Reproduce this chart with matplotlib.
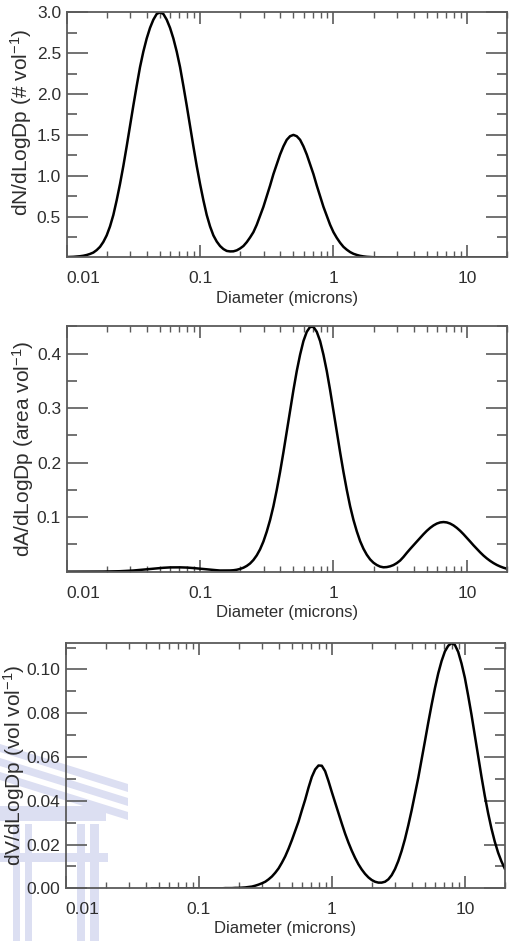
import numpy as np
import matplotlib
matplotlib.use('Agg')
import matplotlib.pyplot as plt
from matplotlib.ticker import LogLocator, NullFormatter
from matplotlib.patches import Rectangle, Polygon

# ------------------ values ------------------
# particle diameter in microns (same grid for all three panels)
diameter = [
    0.010000, 0.010593, 0.011220, 0.011885, 0.012589, 0.013335, 0.014125, 0.014962, 0.015849, 0.016788,
    0.017783, 0.018836, 0.019953, 0.021135, 0.022387, 0.023714, 0.025119, 0.026607, 0.028184, 0.029854,
    0.031623, 0.033497, 0.035481, 0.037584, 0.039811, 0.042170, 0.044668, 0.047315, 0.050119, 0.053088,
    0.056234, 0.059566, 0.063096, 0.066834, 0.070795, 0.074989, 0.079433, 0.084140, 0.089125, 0.094406,
    0.10000, 0.10593, 0.11220, 0.11885, 0.12589, 0.13335, 0.14125, 0.14962, 0.15849, 0.16788,
    0.17783, 0.18836, 0.19953, 0.21135, 0.22387, 0.23714, 0.25119, 0.26607, 0.28184, 0.29854,
    0.31623, 0.33497, 0.35481, 0.37584, 0.39811, 0.42170, 0.44668, 0.47315, 0.50119, 0.53088,
    0.56234, 0.59566, 0.63096, 0.66834, 0.70795, 0.74989, 0.79433, 0.84140, 0.89125, 0.94406,
    1.0000, 1.0593, 1.1220, 1.1885, 1.2589, 1.3335, 1.4125, 1.4962, 1.5849, 1.6788,
    1.7783, 1.8836, 1.9953, 2.1135, 2.2387, 2.3714, 2.5119, 2.6607, 2.8184, 2.9854,
    3.1623, 3.3497, 3.5481, 3.7584, 3.9811, 4.2170, 4.4668, 4.7315, 5.0119, 5.3088,
    5.6234, 5.9566, 6.3096, 6.6834, 7.0795, 7.4989, 7.9433, 8.4140, 8.9125, 9.4406,
    10.000, 10.593, 11.220, 11.885, 12.589, 13.335, 14.125, 14.962, 15.849, 16.788,
    17.783, 18.836, 19.953,
]

# number distribution dN/dLogDp
dn = [
    0.005, 0.006, 0.008, 0.011, 0.015, 0.021, 0.03, 0.043, 0.06, 0.09,
    0.13, 0.19, 0.27, 0.38, 0.52, 0.70, 0.90, 1.12, 1.36, 1.61,
    1.86, 2.10, 2.33, 2.52, 2.68, 2.81, 2.91, 2.98, 3.00, 2.98,
    2.91, 2.81, 2.68, 2.52, 2.33, 2.10, 1.86, 1.61, 1.36, 1.12,
    0.90, 0.70, 0.52, 0.38, 0.27, 0.195, 0.14, 0.103, 0.08, 0.074,
    0.075, 0.087, 0.11, 0.14, 0.187, 0.245, 0.31, 0.40, 0.51, 0.62,
    0.75, 0.88, 1.02, 1.14, 1.26, 1.36, 1.44, 1.484, 1.50, 1.484,
    1.44, 1.36, 1.26, 1.14, 1.02, 0.88, 0.75, 0.62, 0.51, 0.40,
    0.31, 0.24, 0.18, 0.13, 0.095, 0.066, 0.045, 0.031, 0.02, 0.013,
    0.008, 0.005, 0.003, 0.002, 0.001, 0.0, 0.0, 0.0, 0.0, 0.0,
    0.0, 0.0, 0.0, 0.0, 0.0, 0.0, 0.0, 0.0, 0.0, 0.0,
    0.0, 0.0, 0.0, 0.0, 0.0, 0.0, 0.0, 0.0, 0.0, 0.0,
    0.0, 0.0, 0.0, 0.0, 0.0, 0.0, 0.0, 0.0, 0.0, 0.0,
    0.0, 0.0, 0.0,
]

# area distribution dA/dLogDp
da = [
    0.0, 0.0, 0.0, 0.0, 0.0, 0.0, 0.0, 0.0, 0.0001, 0.0001,
    0.0001, 0.0002, 0.0003, 0.0004, 0.0005, 0.0006, 0.0008, 0.0011, 0.0014, 0.0017,
    0.0021, 0.0026, 0.0031, 0.0037, 0.0043, 0.0049, 0.0055, 0.0060, 0.0066, 0.0071,
    0.0075, 0.0078, 0.0079, 0.0080, 0.0079, 0.0078, 0.0075, 0.0071, 0.0066, 0.0060,
    0.0055, 0.0049, 0.0043, 0.0037, 0.0031, 0.0026, 0.0021, 0.0021, 0.0021, 0.0022,
    0.0026, 0.0035, 0.0050, 0.0072, 0.0105, 0.0150, 0.0214, 0.0299, 0.0410, 0.0553,
    0.0734, 0.0947, 0.120, 0.150, 0.183, 0.219, 0.257, 0.295, 0.333, 0.368,
    0.398, 0.423, 0.440, 0.449, 0.449, 0.440, 0.423, 0.398, 0.368, 0.333,
    0.295, 0.257, 0.219, 0.183, 0.150, 0.120, 0.095, 0.074, 0.056, 0.042,
    0.031, 0.0225, 0.0164, 0.0122, 0.0093, 0.0080, 0.0084, 0.0098, 0.0121, 0.0157,
    0.0204, 0.027, 0.0345, 0.0416, 0.0483, 0.0552, 0.0621, 0.0687, 0.0749, 0.0803,
    0.0848, 0.0882, 0.0903, 0.0910, 0.0903, 0.0882, 0.0848, 0.0803, 0.0749, 0.0687,
    0.0621, 0.0552, 0.0483, 0.0417, 0.0354, 0.0295, 0.0243, 0.0197, 0.0157, 0.0123,
    0.0095, 0.0072, 0.0054,
]

# volume distribution dV/dLogDp (the curve only starts near 0.045 micron)
nan = float('nan')
dv = [
    nan, nan, nan, nan, nan, nan, nan, nan, nan, nan,
    nan, nan, nan, nan, nan, nan, nan, nan, nan, nan,
    nan, nan, nan, nan, nan, nan, 0.0, 0.0, 0.0, 0.0,
    0.0, 0.0, 0.0, 0.0, 0.0, 0.0, 0.0, 0.0, 0.0, 0.0,
    0.0, 0.0, 0.0, 0.0, 0.0, 0.0, 0.0, 0.0, 0.0001, 0.0001,
    0.0001, 0.0002, 0.0002, 0.0003, 0.0004, 0.0006, 0.0008, 0.0012, 0.0017, 0.0023,
    0.0030, 0.0041, 0.0054, 0.0071, 0.0091, 0.0117, 0.0146, 0.0181, 0.0220, 0.0262,
    0.0305, 0.0356, 0.0405, 0.0460, 0.0509, 0.0543, 0.0561, 0.0560, 0.0535, 0.0490,
    0.0440, 0.0392, 0.0345, 0.0296, 0.0250, 0.0209, 0.0172, 0.0139, 0.0110, 0.0086,
    0.0066, 0.0050, 0.0038, 0.0030, 0.0026, 0.0026, 0.0030, 0.0041, 0.0060, 0.0088,
    0.0125, 0.0171, 0.0225, 0.0288, 0.0356, 0.0430, 0.0505, 0.0588, 0.0672, 0.0757,
    0.0838, 0.0914, 0.0982, 0.1038, 0.1082, 0.1108, 0.1120, 0.1112, 0.1080, 0.1027,
    0.0962, 0.0880, 0.0793, 0.0698, 0.0602, 0.0510, 0.0422, 0.0343, 0.0273, 0.0213,
    0.0163, 0.0123, 0.0090,
]

x_ticks = [0.01, 0.1, 1, 10]
x_ticklabels = ['0.01', '0.1', '1', '10']

y1_ticks = [0.5, 1.0, 1.5, 2.0, 2.5, 3.0]
y1_minor = [0.25, 0.75, 1.25, 1.75, 2.25, 2.75]
y2_ticks = [0.1, 0.2, 0.3, 0.4]
y2_minor = [0.05, 0.15, 0.25, 0.35, 0.45]
y3_ticks = [0.00, 0.02, 0.04, 0.06, 0.08, 0.10]
y3_minor = [0.01, 0.03, 0.05, 0.07, 0.09, 0.11]
# -----------------------------------------------------------------

plt.rcParams['font.family'] = ['Liberation Sans Narrow', 'Liberation Sans', 'DejaVu Sans']
plt.rcParams['mathtext.fontset'] = 'custom'
plt.rcParams['mathtext.rm'] = 'Liberation Sans'
plt.rcParams['mathtext.it'] = 'Liberation Sans'

axis_col = '#5a5a5a'
text_col = '#2e2e2e'
logo_col = '#dcdff2'

fig = plt.figure(figsize=(5.10, 9.41), dpi=100)

# faint university logo behind the bottom panel (pixel coordinates)
logo = fig.add_axes([0, 0, 1, 1], zorder=-1)
logo.set_xlim(0, 510)
logo.set_ylim(941, 0)
logo.axis('off')
for y0 in (744, 758, 772):
    logo.add_patch(Polygon([(0, y0), (128, y0 + 40), (128, y0 + 48), (0, y0 + 8)],
                           closed=True, color=logo_col, lw=0))
logo.add_patch(Rectangle((0, 806), 106, 15, color=logo_col, lw=0))
logo.add_patch(Rectangle((0, 853), 108, 9, color=logo_col, lw=0))
for x0, w in ((13, 7), (25, 7), (77, 8), (90, 9)):
    logo.add_patch(Rectangle((x0, 824), w, 117, color=logo_col, lw=0))


def draw_panel(rect, y, ylim, yticks, ylabels, yminor, ylabel, label_xy):
    ax = fig.add_axes(rect)
    ax.patch.set_alpha(0)
    ax.plot(diameter, y, color='black', linewidth=1.8)
    ax.set_xscale('log')
    ax.set_xlim(0.01, 20)
    ax.set_ylim(*ylim)

    ax.set_xticks(x_ticks, labels=x_ticklabels)
    ax.xaxis.set_minor_locator(LogLocator(base=10, subs=np.arange(2, 10)))
    ax.xaxis.set_minor_formatter(NullFormatter())
    ax.set_yticks(yticks, labels=ylabels)
    ax.set_yticks(yminor, minor=True)

    ax.tick_params(axis='both', which='both', direction='in', top=True, right=True,
                   colors=axis_col, labelcolor=text_col, labelsize=12.5)
    ax.tick_params(axis='y', which='major', length=15, width=1.2, pad=4)
    ax.tick_params(axis='y', which='minor', length=7, width=1.2)
    ax.tick_params(axis='x', which='major', length=8.5, width=1.2, pad=10)
    ax.tick_params(axis='x', which='minor', length=4.5, width=1.0)
    for s in ax.spines.values():
        s.set_color(axis_col)
        s.set_linewidth(1.3)

    # the first label sits flush with the left frame, as in the original
    ax.get_xticklabels()[0].set_horizontalalignment('left')

    ax.set_xlabel('Diameter (microns)', fontsize=12, color=text_col, labelpad=3)
    ax.set_ylabel(ylabel, fontsize=15, color=text_col,
                  family=['Liberation Sans', 'DejaVu Sans'])
    ax.yaxis.set_label_coords(*label_xy)
    return ax


draw_panel([0.1307, 0.7264, 0.8634, 0.2605], dn, (0, 3.0),
           y1_ticks, ['0.5', '1.0', '1.5', '2.0', '2.5', '3.0'], y1_minor,
           'dN/dLogDp (# vol$^{-1}$)', (-0.075, 0.55))

draw_panel([0.1307, 0.3925, 0.8634, 0.2607], da, (0, 0.45),
           y2_ticks, ['0.1', '0.2', '0.3', '0.4'], y2_minor,
           'dA/dLogDp (area vol$^{-1}$)', (-0.07, 0.5))

draw_panel([0.1288, 0.0560, 0.8612, 0.2610], dv, (0, 0.1122),
           y3_ticks, ['0.00', '0.02', '0.04', '0.06', '0.08', '0.10'], y3_minor,
           'dV/dLogDp (vol vol$^{-1}$)', (-0.088, 0.5))

fig.savefig('out.png', dpi=100)
